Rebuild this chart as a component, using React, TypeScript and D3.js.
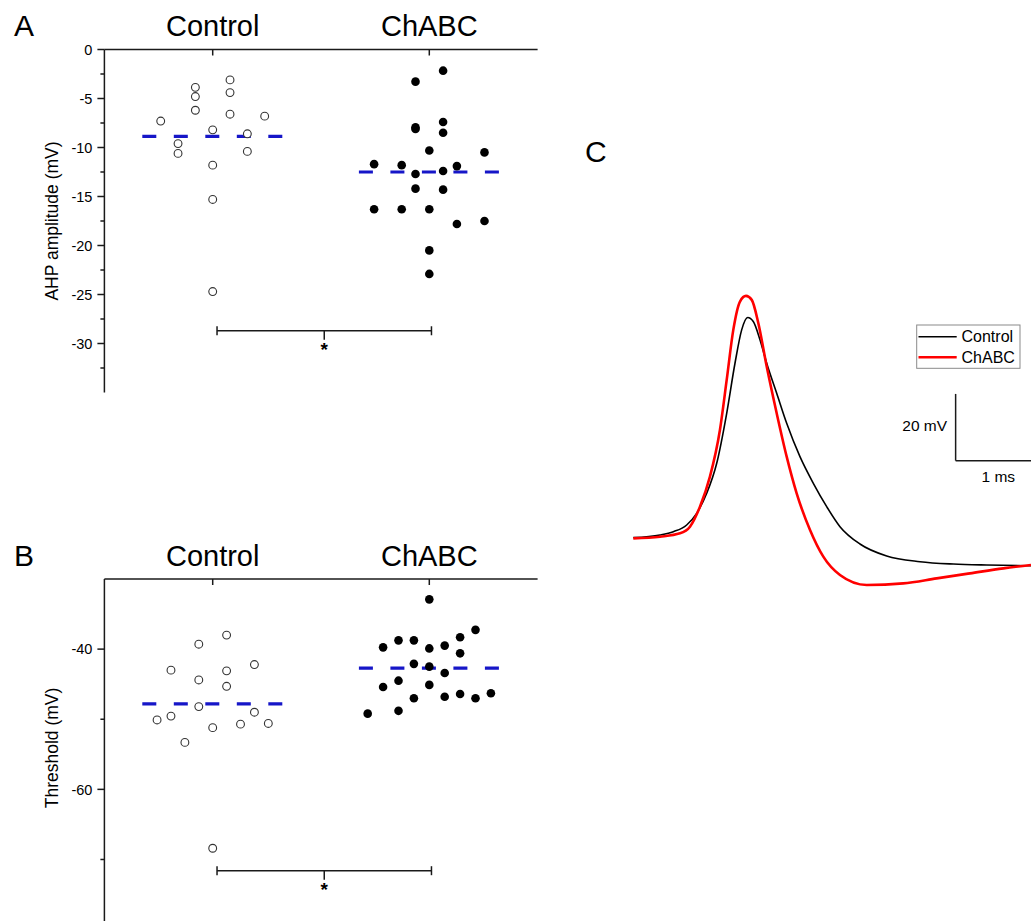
import React from "react";
import * as d3 from "d3";

// ---------- data ----------
const categories = ["Control", "ChABC"];

// Panel A: AHP amplitude (mV), with horizontal slot index for dot placement
const ahpControl = [-7.3, -9.6, -10.6, -3.86, -4.8, -6.2, -8.2, -11.8, -15.3, -24.7, -3.1, -4.4, -6.6, -8.6, -10.4, -6.8];
const ahpControlSlot = [-3, -2, -2, -1, -1, -1, 0, 0, 0, 0, 1, 1, 1, 2, 2, 3];
const ahpChabc = [-2.16, -3.28, -7.95, -8.1, -7.4, -8.5, -10.3, -10.5, -11.7, -11.8, -11.9, -12.7, -12.4, -14.2, -14.3, -16.3, -16.3, -16.3, -17.8, -17.5, -20.5, -22.9];
const ahpChabcSlot = [1, -1, -1, -1, 1, 1, 0, 4, -4, -2, 2, -1, 1, -1, 1, -4, -2, 0, 2, 4, 0, 0];
const ahpMeans = [-8.86, -12.5];
const ahpSig = -28.7;
const ahpTicks = [0, -5, -10, -15, -20, -25, -30];

// Panel B: Threshold (mV)
const thrControl = [-50.1, -43.0, -49.55, -53.3, -39.3, -44.4, -48.2, -51.2, -68.4, -38.0, -43.1, -45.3, -50.7, -42.2, -49.0, -50.6];
const thrControlSlot = [-4, -3, -3, -2, -1, -1, -1, 0, 0, 1, 1, 1, 2, 3, 3, 4];
const thrChabc = [-32.9, -37.25, -38.3, -38.75, -38.75, -39.75, -39.9, -39.5, -40.6, -42.1, -42.5, -43.4, -44.5, -45.4, -45.1, -47.0, -46.8, -46.4, -47.0, -46.3, -49.2, -48.8];
const thrChabcSlot = [0, 3, 2, -2, -1, -3, 0, 1, 2, -1, 0, 1, -2, -3, 0, -1, 1, 2, 3, 4, -4, -2];
const thrMeans = [-47.8, -42.7];
const thrSig = -71.6;
const thrTicks = [-40, -60];

// Panel C: action potential traces (time ms, membrane mV)
const traceT_control = [0, 0.316, 0.473, 0.631, 0.749, 0.868, 0.986, 1.104, 1.202, 1.281, 1.352, 1.418, 1.498, 1.577, 1.695, 1.813, 1.97, 2.128, 2.286, 2.443, 2.679, 2.995, 3.389, 3.783, 4.177, 4.701];
const traceV_control = [-64.9, -64.1, -63.1, -61.1, -57.6, -51.6, -42.6, -27.6, -12.6, -2.6, 1.1, -0.1, -5.6, -12.6, -21.6, -30.6, -40.6, -48.6, -55.6, -61.6, -66.8, -70.4, -72.1, -72.8, -73.1, -73.3];
const traceT_chabc = [0, 0.316, 0.552, 0.67, 0.788, 0.906, 1.024, 1.104, 1.182, 1.261, 1.332, 1.4, 1.478, 1.577, 1.695, 1.813, 1.931, 2.089, 2.246, 2.443, 2.759, 3.191, 3.586, 3.98, 4.374, 4.701];
const traceV_chabc = [-65.1, -64.6, -63.6, -61.6, -55.6, -46.6, -32.6, -17.6, -2.6, 5.9, 7.6, 6.4, -0.6, -13.6, -27.6, -40.6, -51.6, -62.6, -70.6, -76.1, -79.1, -78.6, -77.1, -75.6, -74.1, -73.1];
const legendLabels = ["Control", "ChABC"];
const scaleBar = { t0: 3.81, v0: -41.8, dt: 1, dv: 20 };

// ---------- styles ----------
const FONT = "Arial, 'Liberation Sans', Helvetica, sans-serif";
const AX = "#1a1a1a";
const BLUE = "#1616c8";

type PanelProps = {
  letter: string;
  top: number;
  yDomain: [number, number];
  yRange: [number, number];
  majorTicks: number[];
  minorTicks: number[];
  yLabel: string;
  yLabelY: number;
  ctrl: number[];
  ctrlSlot: number[];
  ctrlStep: number;
  chabc: number[];
  chabcSlot: number[];
  chabcStep: number;
  means: number[];
  sig: number;
};

const x = d3.scaleLinear().domain([0.5, 2.5]).range([104.4, 537.6]);

function DotPanel(p: PanelProps) {
  const y = d3.scaleLinear().domain(p.yDomain).range(p.yRange);
  const axisTop = y(p.yDomain[1]);
  const axisBottom = y(p.yDomain[0]);
  const x0 = x(0.5);
  const catX = categories.map((_, i) => x(i + 1));
  return (
    <g>
      <text x={14} y={p.top - 14} fontSize={30} fontFamily={FONT} fill="#000">{p.letter}</text>
      {categories.map((c, i) => (
        <text key={c} x={catX[i]} y={p.top - 14} fontSize={29} fontFamily={FONT} textAnchor="middle" fill="#000">{c}</text>
      ))}
      {/* axes */}
      <line x1={x0} x2={x0} y1={axisTop} y2={axisBottom} stroke={AX} strokeWidth={1.5} />
      <line x1={x0} x2={x(2.5)} y1={axisTop} y2={axisTop} stroke={AX} strokeWidth={1.5} />
      {catX.map((cx, i) => (
        <line key={i} x1={cx} x2={cx} y1={axisTop} y2={axisTop + 6} stroke={AX} strokeWidth={1.5} />
      ))}
      {p.majorTicks.map((t) => (
        <g key={"M" + t}>
          <line x1={x0 - 7} x2={x0} y1={y(t)} y2={y(t)} stroke={AX} strokeWidth={1.5} />
          <text x={x0 - 12} y={y(t)} dy="0.36em" fontSize={14.5} fontFamily={FONT} textAnchor="end" fill="#000">{t}</text>
        </g>
      ))}
      {p.minorTicks.map((t) => (
        <line key={"m" + t} x1={x0 - 4} x2={x0} y1={y(t)} y2={y(t)} stroke={AX} strokeWidth={1.5} />
      ))}
      <text transform={`translate(52,${p.yLabelY}) rotate(-90)`} dy="0.35em" fontSize={17.5} fontFamily={FONT} textAnchor="middle" fill="#000">{p.yLabel}</text>
      {/* means */}
      {p.means.map((m, i) => (
        <line key={"mean" + i} x1={x(i + 1 - 0.325)} x2={x(i + 1 + 0.325)} y1={y(m)} y2={y(m)} stroke={BLUE} strokeWidth={3.2} strokeDasharray="14,17.5" />
      ))}
      {/* dots */}
      {p.ctrl.map((v, i) => (
        <circle key={"c" + i} cx={x(1 + p.ctrlSlot[i] * p.ctrlStep)} cy={y(v)} r={3.9} fill="#fff" stroke="#333" strokeWidth={1.1} />
      ))}
      {p.chabc.map((v, i) => (
        <circle key={"h" + i} cx={x(2 + p.chabcSlot[i] * p.chabcStep)} cy={y(v)} r={4.3} fill="#000" />
      ))}
      {/* significance bracket */}
      <g stroke={AX} strokeWidth={1.5}>
        <line x1={x(1.02)} x2={x(2.01)} y1={y(p.sig)} y2={y(p.sig)} />
        <line x1={x(1.02)} x2={x(1.02)} y1={y(p.sig) - 4.5} y2={y(p.sig) + 4.5} />
        <line x1={x(2.01)} x2={x(2.01)} y1={y(p.sig) - 4.5} y2={y(p.sig) + 4.5} />
        <line x1={x(1.515)} x2={x(1.515)} y1={y(p.sig)} y2={y(p.sig) + 9} />
      </g>
      <text x={x(1.515)} y={y(p.sig) + 25} fontSize={19} fontWeight="bold" fontFamily={FONT} textAnchor="middle" fill="#000">*</text>
    </g>
  );
}

export default function App() {
  // Panel C scales
  const tx = d3.scaleLinear().domain([0, 1]).range([633.3, 633.3 + 84.6]);
  const vy = d3.scaleLinear().domain([-65, -45]).range([538, 538 - 66.7]);
  const line = d3
    .line<[number, number]>()
    .x((d) => tx(d[0]))
    .y((d) => vy(d[1]))
    .curve(d3.curveMonotoneX);
  const ctrlPts = traceT_control.map((t, i) => [t, traceV_control[i]] as [number, number]);
  const chPts = traceT_chabc.map((t, i) => [t, traceV_chabc[i]] as [number, number]);

  const sbX = tx(scaleBar.t0);
  const sbY = vy(scaleBar.v0);
  const sbTop = vy(scaleBar.v0 + scaleBar.dv);
  const sbRight = tx(scaleBar.t0 + scaleBar.dt);

  const legendColors = ["#000", "#ff0000"];
  const legendWidths = [1.6, 2.6];

  return (
    <svg width={1031} height={921} style={{ position: "absolute", left: 0, top: 0, background: "#fff" }}>
      <rect width={1031} height={921} fill="#fff" />
      <DotPanel
        letter="A"
        top={50}
        yDomain={[-35, 0]}
        yRange={[392.5, 49.5]}
        majorTicks={ahpTicks}
        minorTicks={d3.range(-2.5, -35, -5)}
        yLabel="AHP amplitude (mV)"
        yLabelY={221}
        ctrl={ahpControl}
        ctrlSlot={ahpControlSlot}
        ctrlStep={0.08}
        chabc={ahpChabc}
        chabcSlot={ahpChabcSlot}
        chabcStep={0.0637}
        means={ahpMeans}
        sig={ahpSig}
      />
      <DotPanel
        letter="B"
        top={580}
        yDomain={[-80, -30]}
        yRange={[929.6, 579]}
        majorTicks={thrTicks}
        minorTicks={[-50, -70]}
        yLabel="Threshold (mV)"
        yLabelY={748}
        ctrl={thrControl}
        ctrlSlot={thrControlSlot}
        ctrlStep={0.0642}
        chabc={thrChabc}
        chabcSlot={thrChabcSlot}
        chabcStep={0.0711}
        means={thrMeans}
        sig={thrSig}
      />
      {/* Panel C */}
      <text x={585} y={162} fontSize={30} fontFamily={FONT} fill="#000">C</text>
      <path d={line(ctrlPts) || ""} fill="none" stroke="#000" strokeWidth={1.6} />
      <path d={line(chPts) || ""} fill="none" stroke="#ff0000" strokeWidth={2.6} />
      {/* legend */}
      <rect x={916.7} y={325} width={103.3} height={43.3} fill="#fff" stroke="#8a8a8a" strokeWidth={1} />
      {legendLabels.map((l, i) => (
        <g key={l}>
          <line x1={918.5} x2={956.7} y1={336.7 + i * 20.6} y2={336.7 + i * 20.6} stroke={legendColors[i]} strokeWidth={legendWidths[i]} />
          <text x={961.5} y={336.7 + i * 20.6} dy="0.36em" fontSize={16} fontFamily={FONT} fill="#000">{l}</text>
        </g>
      ))}
      {/* scale bar */}
      <g stroke={AX} strokeWidth={1.5} fill="none">
        <line x1={sbX} x2={sbX} y1={sbTop} y2={sbY} />
        <line x1={sbX} x2={sbRight} y1={sbY} y2={sbY} />
      </g>
      <text x={sbX - 8.5} y={(sbTop + sbY) / 2 - 2} dy="0.36em" fontSize={15.5} fontFamily={FONT} textAnchor="end" fill="#000">20 mV</text>
      <text x={998.3} y={sbY + 16} dy="0.36em" fontSize={15.5} fontFamily={FONT} textAnchor="middle" fill="#000">1 ms</text>
    </svg>
  );
}
